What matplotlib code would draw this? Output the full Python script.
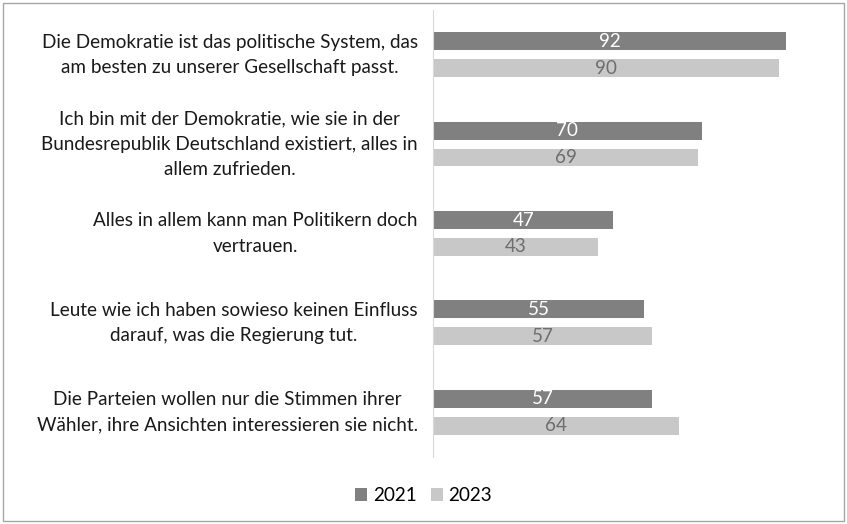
import matplotlib.pyplot as plt
import numpy as np

plt.rcParams['font.family'] = ['Lato', 'DejaVu Sans']

statements = [
    "Die Demokratie ist das politische System, das\nam besten zu unserer Gesellschaft passt.",
    "Ich bin mit der Demokratie, wie sie in der\nBundesrepublik Deutschland existiert, alles in\nallem zufrieden.",
    "Alles in allem kann man Politikern doch\nvertrauen.",
    "Leute wie ich haben sowieso keinen Einfluss\ndarauf, was die Regierung tut.",
    "Die Parteien wollen nur die Stimmen ihrer\nWähler, ihre Ansichten interessieren sie nicht.",
]
values_2021 = [92, 70, 47, 55, 57]
values_2023 = [90, 69, 43, 57, 64]

dark = '#808080'
light = '#c8c8c8'
fs = 13.6

fig = plt.figure(figsize=(8.47, 5.24), dpi=100)
ax = fig.add_axes([0.5112, 0.128, 0.4534, 0.853])

y = np.arange(len(statements))
bh = 0.2
b1 = ax.barh(y - 0.15, values_2021, height=bh, color=dark, label='2021')
b2 = ax.barh(y + 0.15, values_2023, height=bh, color=light, label='2023')

for bar, v in zip(b1, values_2021):
    ax.text(v / 2, bar.get_y() + bar.get_height() / 2, str(v),
            ha='center', va='center', color='white', fontsize=fs)
for bar, v in zip(b2, values_2023):
    ax.text(v / 2, bar.get_y() + bar.get_height() / 2, str(v),
            ha='center', va='center', color='#6e6e6e', fontsize=fs)

ax.set_xlim(0, 100)
ax.set_ylim(len(statements) - 0.5, -0.5)
ax.set_yticks(y)
ax.set_yticklabels(statements, fontsize=fs, multialignment='center',
                   linespacing=1.58, va='center')
ax.tick_params(axis='y', length=0, pad=11, colors='#1a1a1a')
ax.set_xticks([])
for s in ['top', 'right', 'bottom']:
    ax.spines[s].set_visible(False)
ax.spines['left'].set_color('#d9d9d9')

fig.legend(handles=[b1, b2], loc='lower center', bbox_to_anchor=(0.5, 0.005),
           ncol=2, frameon=False, fontsize=fs, handlelength=0.65,
           handleheight=0.65, handletextpad=0.3, columnspacing=0.75)

fig.patches.append(plt.Rectangle((0.004, 0.006), 0.992, 0.988,
                                 transform=fig.transFigure, fill=False,
                                 edgecolor='#a6a6a6', linewidth=1))

fig.savefig('out.png', dpi=100)
